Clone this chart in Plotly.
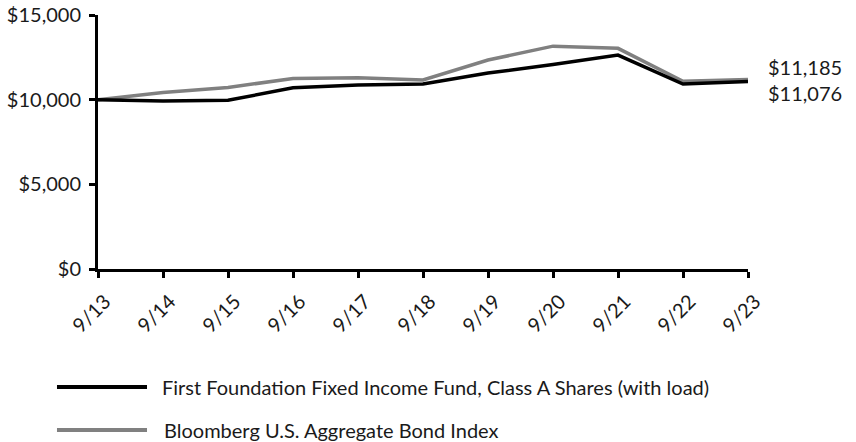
import plotly.graph_objects as go

categories = ["9/13", "9/14", "9/15", "9/16", "9/17", "9/18", "9/19", "9/20", "9/21", "9/22", "9/23"]
fund_values = [10000, 9920, 9960, 10700, 10870, 10930, 11570, 12070, 12630, 10920, 11076]
index_values = [10000, 10430, 10720, 11250, 11290, 11160, 12340, 13160, 13030, 11090, 11185]
fund_name = "First Foundation Fixed Income Fund, Class A Shares (with load)"
index_name = "Bloomberg U.S. Aggregate Bond Index"
y_ticks = [0, 5000, 10000, 15000]
y_tick_labels = ["$0", "$5,000", "$10,000", "$15,000"]

FONT = "Lato, Calibri, Carlito, sans-serif"
BLACK = "#000000"
GRAY = "#808080"
TXT = "#1a1a1a"
FS = 20

fig = go.Figure()
fig.add_trace(go.Scatter(x=list(range(len(categories))), y=index_values, mode="lines",
                         line=dict(color=GRAY, width=3.5), name=index_name, showlegend=False,
                         hoverinfo="skip"))
fig.add_trace(go.Scatter(x=list(range(len(categories))), y=fund_values, mode="lines",
                         line=dict(color=BLACK, width=3.5), name=fund_name, showlegend=False,
                         hoverinfo="skip"))

fig.update_layout(
    width=856, height=442,
    margin=dict(l=98, r=108, t=15, b=173),
    paper_bgcolor="white", plot_bgcolor="white",
    font=dict(family=FONT, size=FS, color=TXT),
    xaxis=dict(range=[0, len(categories) - 1], tickmode="array",
               tickvals=list(range(len(categories))), ticktext=categories,
               tickangle=-45, showline=True, linecolor=BLACK, linewidth=3,
               ticks="outside", ticklen=6, tickwidth=3, tickcolor=BLACK,
               ticklabelshift=7, ticklabelstandoff=4,
               showgrid=False, zeroline=False, fixedrange=True, automargin=False,
               tickfont=dict(family=FONT, size=FS, color=TXT)),
    yaxis=dict(range=[0, 15000], tickmode="array", tickvals=y_ticks, ticktext=y_tick_labels,
               showline=True, linecolor=BLACK, linewidth=3,
               ticks="outside", ticklen=6, tickwidth=3, tickcolor=BLACK,
               ticklabelstandoff=4,
               showgrid=False, zeroline=False, fixedrange=True, automargin=False,
               tickfont=dict(family=FONT, size=FS, color=TXT)),
)

# end-value labels
fig.add_annotation(x=len(categories) - 1, y=index_values[-1], xref="x", yref="y",
                   text="$" + f"{index_values[-1]:,}", showarrow=False, xanchor="left",
                   xshift=18, yshift=13, font=dict(family=FONT, size=FS, color=TXT))
fig.add_annotation(x=len(categories) - 1, y=fund_values[-1], xref="x", yref="y",
                   text="$" + f"{fund_values[-1]:,}", showarrow=False, xanchor="left",
                   xshift=18, yshift=-12, font=dict(family=FONT, size=FS, color=TXT))

# legend drawn manually below the chart
legend_items = [(fund_name, BLACK, -0.4646, 0.0954), (index_name, GRAY, -0.634, 0.0985)]
for name, color, ypos, xtext in legend_items:
    fig.add_shape(type="line", xref="paper", yref="paper", x0=-0.0631, x1=0.0754,
                  y0=ypos, y1=ypos, line=dict(color=color, width=4))
    fig.add_annotation(x=xtext, y=ypos, xref="paper", yref="paper", text=name,
                       showarrow=False, xanchor="left", yanchor="middle",
                       font=dict(family=FONT, size=FS, color=TXT))

fig.write_html("out.html", config={"displayModeBar": False, "staticPlot": True},
               post_script="document.body.style.margin='0px';document.body.style.overflow='hidden';")
